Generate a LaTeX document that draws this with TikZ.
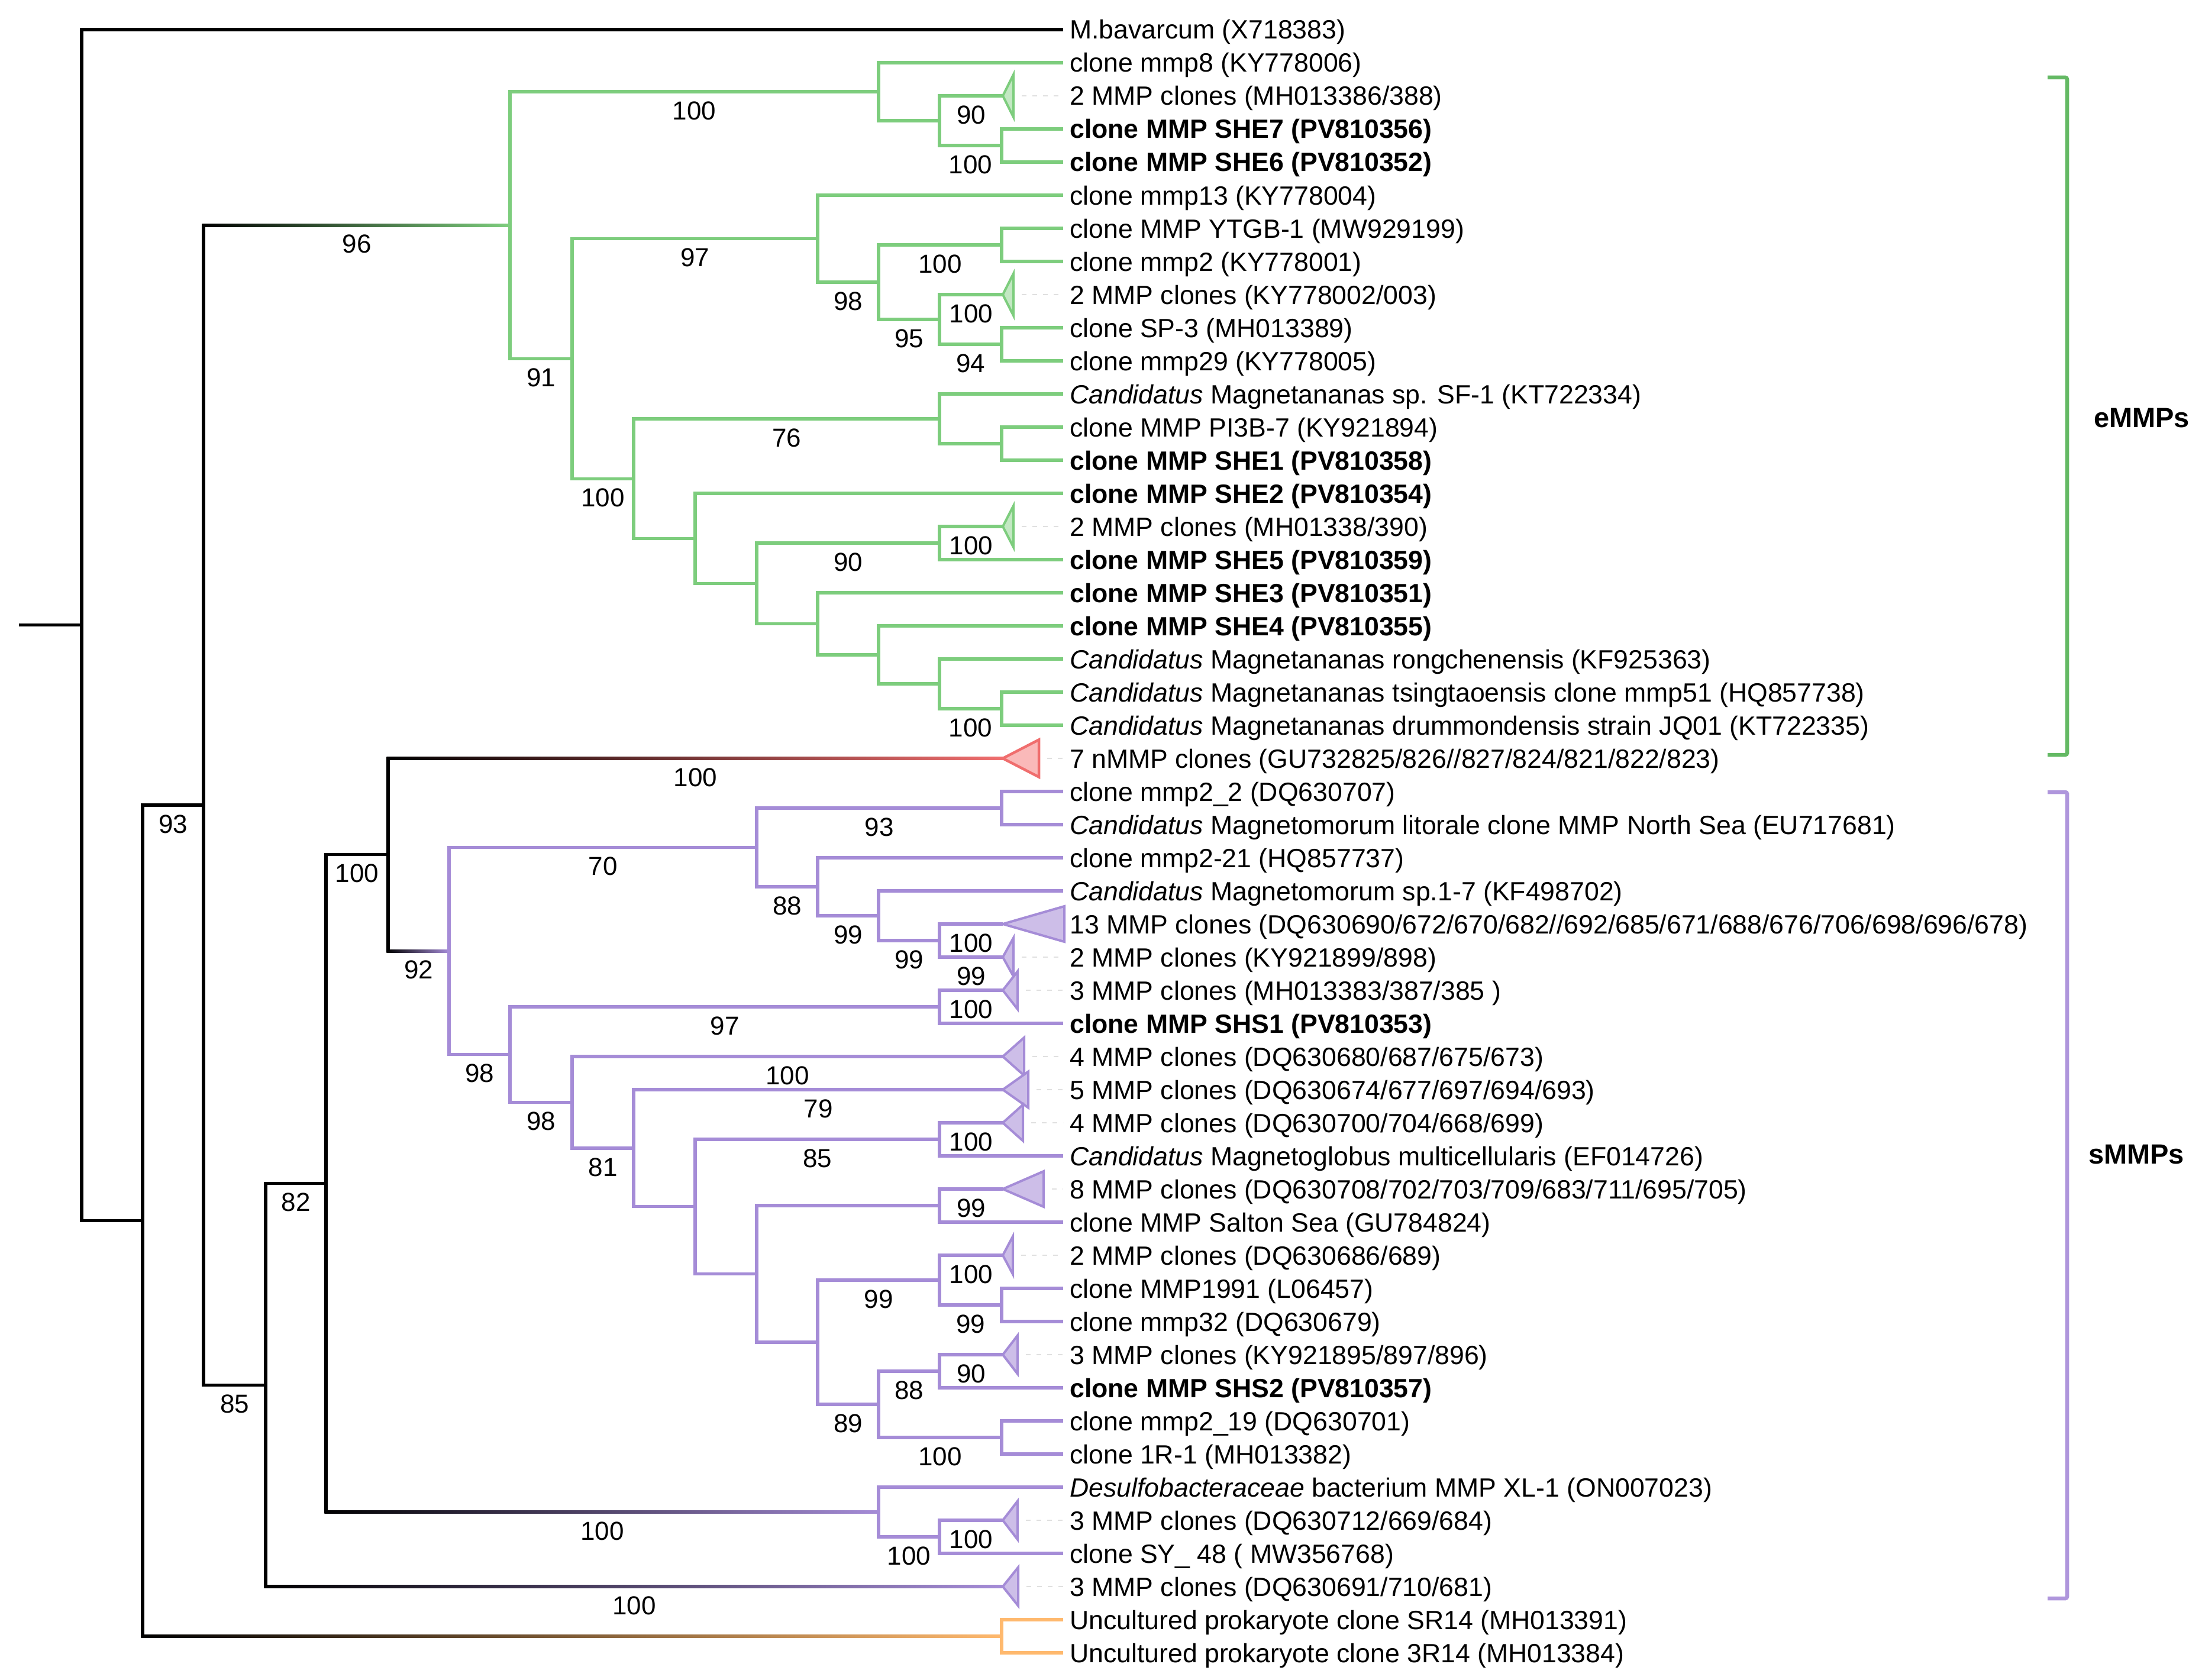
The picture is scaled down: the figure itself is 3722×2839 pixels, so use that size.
\documentclass[tikz,border=0pt]{standalone}
\usepackage{fontspec}
\setmainfont{Liberation Sans}
\usetikzlibrary{calc}
\definecolor{gline}{RGB}{125,205,125}
\definecolor{gfill}{RGB}{195,232,195}
\definecolor{gbrk}{RGB}{100,185,100}
\definecolor{pline}{RGB}{165,140,215}
\definecolor{pfill}{RGB}{205,190,232}
\definecolor{pbrk}{RGB}{175,150,220}
\definecolor{rline}{RGB}{240,110,110}
\definecolor{rfill}{RGB}{250,185,185}
\definecolor{oline}{RGB}{255,185,110}
\tikzset{
 bk/.style={draw=black,line width=5.2pt},
 gr/.style={draw=gline,line width=5.2pt},
 pu/.style={draw=pline,line width=5.2pt},
 og/.style={draw=oline,line width=5.2pt},
 gtri/.style={draw=gline,fill=gfill,line width=4pt},
 ptri/.style={draw=pline,fill=pfill,line width=4pt},
 rtri/.style={draw=rline,fill=rfill,line width=4.5pt},
 faint/.style={draw=black!12,line width=2pt,dash pattern=on 8pt off 10pt},
 lab/.style={anchor=base west,inner sep=0pt,font=\fontsize{44.6}{53}\selectfont},
 blab/.style={anchor=base west,inner sep=0pt,font=\fontsize{44.6}{53}\selectfont\bfseries},
 bs/.style={inner sep=0pt,font=\fontsize{44}{53}\selectfont},
 brk/.style={line width=6.5pt,rounded corners=3pt},
 clab/.style={inner sep=0pt,font=\fontsize{47}{53}\selectfont\bfseries},
}
\newcommand{\gradbr}[3]{\shade[left color=black,right color=#3] ($(#1 |- #2)+(-2.6,-2.6)$) rectangle ($(#2)+(0,2.6)$);}
\newcommand{\bsl}[4]{\node[bs] (#1) at ($(#2 |- #3)!0.5!(#3)+(0,32)$) {#4};}
\newcommand{\colltri}[4]{\filldraw[#2] (#1) -- ++(#3,{-#4/2}) -- ++(0,#4) -- cycle;}
\begin{document}
\begin{tikzpicture}[x=1pt,y=-1pt]
\useasboundingbox (0,0) rectangle (3722,2839);
% leaf ends
\foreach \i in {1,...,50} {\coordinate (l\i) at (1797,{50+56*(\i-1)});}
% triangle tips
\foreach \i in {3,9,16,23,28,29,30,32,33,34,36,38,41,46,48} {\coordinate (t\i) at (1695,{50+56*(\i-1)});}
% internal nodes
\coordinate (stub) at (32,1056.7);
\coordinate (root) at (138,1056.7);
\coordinate (k93) at (241,2063.5);
\coordinate (k96) at (344,1360.9);
\coordinate (k85) at (449,2341.2);
\coordinate (k82) at (551,2000.4);
\coordinate (k100) at (656,1444.8);
\coordinate (oA) at (1693,2766);
\coordinate (gT) at (862,380.6);
\coordinate (gC) at (1485,155);
\coordinate (gB) at (1588,204);
\coordinate (gA) at (1693,246);
\coordinate (gS) at (967,606.3);
\coordinate (gH) at (1382,403.5);
\coordinate (gG) at (1485,477);
\coordinate (gD) at (1693,414);
\coordinate (gF) at (1588,540);
\coordinate (gE) at (1693,582);
\coordinate (gR) at (1071,809.1);
\coordinate (gJ) at (1588,708);
\coordinate (gI) at (1693,750);
\coordinate (gQ) at (1175,910.1);
\coordinate (gP) at (1279,986.3);
\coordinate (gK) at (1588,918);
\coordinate (gO) at (1382,1054.5);
\coordinate (gN) at (1485,1107);
\coordinate (gM) at (1588,1156);
\coordinate (gL) at (1693,1198);
\coordinate (pT) at (759,1607.6);
\coordinate (pE) at (1279,1432.5);
\coordinate (pA) at (1693,1366);
\coordinate (pD) at (1382,1499);
\coordinate (pC) at (1485,1548);
\coordinate (pB) at (1588,1590);
\coordinate (pS) at (862,1782.7);
\coordinate (pF) at (1588,1702);
\coordinate (pR) at (967,1863.4);
\coordinate (pQ) at (1071,1940.9);
\coordinate (pP) at (1175,2039.8);
\coordinate (pG) at (1588,1926);
\coordinate (pO) at (1279,2153.5);
\coordinate (pH) at (1588,2038);
\coordinate (pN) at (1382,2269);
\coordinate (pJ) at (1588,2164);
\coordinate (pI) at (1693,2206);
\coordinate (pM) at (1485,2374);
\coordinate (pK) at (1588,2318);
\coordinate (pL) at (1693,2430);
\coordinate (pV) at (1485,2556);
\coordinate (pU) at (1588,2598);
% gradient branches
\gradbr{k93}{oA}{oline}
\gradbr{k96}{gT}{gline}
\gradbr{k85}{t48}{pline}
\gradbr{k82}{pV}{pline}
\gradbr{k100}{t23}{rline}
\gradbr{k100}{pT}{pline}
% black branches
\draw[bk] (stub) -- (root);
\draw[bk] (root) |- (l1);
\draw[bk] (root) |- (k93);
\draw[bk] (k93) |- (k96);
\draw[bk] (k93) -- (k93 |- oA);
\draw[bk] (k96) -- (k96 |- gT);
\draw[bk] (k96) |- (k85);
\draw[bk] (k85) |- (k82);
\draw[bk] (k85) -- (k85 |- t48);
\draw[bk] (k82) |- (k100);
\draw[bk] (k82) -- (k82 |- pV);
\draw[bk] (k100) -- (k100 |- t23);
\draw[bk] (k100) -- (k100 |- pT);
% orange
\draw[og] (oA) |- (l49);
\draw[og] (oA) |- (l50);
% green
\foreach \p/\c in {gT/gC,gT/gS,gC/l2,gC/gB,gB/t3,gB/gA,gA/l4,gA/l5,gS/gH,gS/gR,gH/l6,gH/gG,gG/gD,gG/gF,gD/l7,gD/l8,gF/t9,gF/gE,gE/l10,gE/l11,gR/gJ,gR/gQ,gJ/l12,gJ/gI,gI/l13,gI/l14,gQ/l15,gQ/gP,gP/gK,gP/gO,gK/t16,gK/l17,gO/l18,gO/gN,gN/l19,gN/gM,gM/l20,gM/gL,gL/l21,gL/l22}
  {\draw[gr] (\p) |- (\c);}
% purple
\foreach \p/\c in {pT/pE,pT/pS,pE/pA,pE/pD,pA/l24,pA/l25,pD/l26,pD/pC,pC/l27,pC/pB,pB/t28,pB/t29,pS/pF,pS/pR,pF/t30,pF/l31,pR/t32,pR/pQ,pQ/t33,pQ/pP,pP/pG,pP/pO,pG/t34,pG/l35,pO/pH,pO/pN,pH/t36,pH/l37,pN/pJ,pN/pM,pJ/t38,pJ/pI,pI/l39,pI/l40,pM/pK,pM/pL,pK/t41,pK/l42,pL/l43,pL/l44,pV/l45,pV/pU,pU/t46,pU/l47}
  {\draw[pu] (\p) |- (\c);}
% faint dashed leaders
\foreach \i/\w in {3/18,9/18,16/18,23/61,29/18,30/25,32/36,33/43,34/34,36/69,38/17,41/25,46/25,48/26}
  {\draw[faint] ($(t\i)+(\w+14,0)$) -- (l\i);}
% collapsed triangles
\colltri{t3}{gtri}{18}{72}
\colltri{t9}{gtri}{18}{71}
\colltri{t16}{gtri}{18}{70}
\colltri{t23}{rtri}{61}{63}
\colltri{t28}{ptri}{104}{60}
\colltri{t29}{ptri}{18}{65}
\colltri{t30}{ptri}{25}{64}
\colltri{t32}{ptri}{36}{64}
\colltri{t33}{ptri}{43}{61}
\colltri{t34}{ptri}{34}{61}
\colltri{t36}{ptri}{69}{60}
\colltri{t38}{ptri}{17}{64}
\colltri{t41}{ptri}{25}{65}
\colltri{t46}{ptri}{25}{65}
\colltri{t48}{ptri}{26}{65}
% leaf labels
\node[lab] (n1) at ($(l1)+(11,16)$) {M.bavarcum (X718383)};
\node[lab] (n2) at ($(l2)+(11,16)$) {clone mmp8 (KY778006)};
\node[lab] (n3) at ($(l3)+(11,16)$) {2 MMP clones (MH013386/388)};
\node[blab] (n4) at ($(l4)+(11,16)$) {clone MMP SHE7 (PV810356)};
\node[blab] (n5) at ($(l5)+(11,16)$) {clone MMP SHE6 (PV810352)};
\node[lab] (n6) at ($(l6)+(11,16)$) {clone mmp13 (KY778004)};
\node[lab] (n7) at ($(l7)+(11,16)$) {clone MMP YTGB-1 (MW929199)};
\node[lab] (n8) at ($(l8)+(11,16)$) {clone mmp2 (KY778001)};
\node[lab] (n9) at ($(l9)+(11,16)$) {2 MMP clones (KY778002/003)};
\node[lab] (n10) at ($(l10)+(11,16)$) {clone SP-3 (MH013389)};
\node[lab] (n11) at ($(l11)+(11,16)$) {clone mmp29 (KY778005)};
\node[lab] (n12) at ($(l12)+(11,16)$) {\textit{Candidatus} Magnetananas sp. SF-1 (KT722334)};
\node[lab] (n13) at ($(l13)+(11,16)$) {clone MMP PI3B-7 (KY921894)};
\node[blab] (n14) at ($(l14)+(11,16)$) {clone MMP SHE1 (PV810358)};
\node[blab] (n15) at ($(l15)+(11,16)$) {clone MMP SHE2 (PV810354)};
\node[lab] (n16) at ($(l16)+(11,16)$) {2 MMP clones (MH01338/390)};
\node[blab] (n17) at ($(l17)+(11,16)$) {clone MMP SHE5 (PV810359)};
\node[blab] (n18) at ($(l18)+(11,16)$) {clone MMP SHE3 (PV810351)};
\node[blab] (n19) at ($(l19)+(11,16)$) {clone MMP SHE4 (PV810355)};
\node[lab] (n20) at ($(l20)+(11,16)$) {\textit{Candidatus} Magnetananas rongchenensis (KF925363)};
\node[lab] (n21) at ($(l21)+(11,16)$) {\textit{Candidatus} Magnetananas tsingtaoensis clone mmp51 (HQ857738)};
\node[lab] (n22) at ($(l22)+(11,16)$) {\textit{Candidatus} Magnetananas drummondensis strain JQ01 (KT722335)};
\node[lab] (n23) at ($(l23)+(11,16)$) {7 nMMP clones (GU732825/826//827/824/821/822/823)};
\node[lab] (n24) at ($(l24)+(11,16)$) {clone mmp2\_2 (DQ630707)};
\node[lab] (n25) at ($(l25)+(11,16)$) {\textit{Candidatus} Magnetomorum litorale clone MMP North Sea (EU717681)};
\node[lab] (n26) at ($(l26)+(11,16)$) {clone mmp2-21 (HQ857737)};
\node[lab] (n27) at ($(l27)+(11,16)$) {\textit{Candidatus} Magnetomorum sp.1-7 (KF498702)};
\node[lab] (n28) at ($(l28)+(11,16)$) {13 MMP clones (DQ630690/672/670/682//692/685/671/688/676/706/698/696/678)};
\node[lab] (n29) at ($(l29)+(11,16)$) {2 MMP clones (KY921899/898)};
\node[lab] (n30) at ($(l30)+(11,16)$) {3 MMP clones (MH013383/387/385 )};
\node[blab] (n31) at ($(l31)+(11,16)$) {clone MMP SHS1 (PV810353)};
\node[lab] (n32) at ($(l32)+(11,16)$) {4 MMP clones (DQ630680/687/675/673)};
\node[lab] (n33) at ($(l33)+(11,16)$) {5 MMP clones (DQ630674/677/697/694/693)};
\node[lab] (n34) at ($(l34)+(11,16)$) {4 MMP clones (DQ630700/704/668/699)};
\node[lab] (n35) at ($(l35)+(11,16)$) {\textit{Candidatus} Magnetoglobus multicellularis (EF014726)};
\node[lab] (n36) at ($(l36)+(11,16)$) {8 MMP clones (DQ630708/702/703/709/683/711/695/705)};
\node[lab] (n37) at ($(l37)+(11,16)$) {clone MMP Salton Sea (GU784824)};
\node[lab] (n38) at ($(l38)+(11,16)$) {2 MMP clones (DQ630686/689)};
\node[lab] (n39) at ($(l39)+(11,16)$) {clone MMP1991 (L06457)};
\node[lab] (n40) at ($(l40)+(11,16)$) {clone mmp32 (DQ630679)};
\node[lab] (n41) at ($(l41)+(11,16)$) {3 MMP clones (KY921895/897/896)};
\node[blab] (n42) at ($(l42)+(11,16)$) {clone MMP SHS2 (PV810357)};
\node[lab] (n43) at ($(l43)+(11,16)$) {clone mmp2\_19 (DQ630701)};
\node[lab] (n44) at ($(l44)+(11,16)$) {clone 1R-1 (MH013382)};
\node[lab] (n45) at ($(l45)+(11,16)$) {\textit{Desulfobacteraceae} bacterium MMP XL-1 (ON007023)};
\node[lab] (n46) at ($(l46)+(11,16)$) {3 MMP clones (DQ630712/669/684)};
\node[lab] (n47) at ($(l47)+(11,16)$) {clone SY\_ 48 ( MW356768)};
\node[lab] (n48) at ($(l48)+(11,16)$) {3 MMP clones (DQ630691/710/681)};
\node[lab] (n49) at ($(l49)+(11,16)$) {Uncultured prokaryote clone SR14 (MH013391)};
\node[lab] (n50) at ($(l50)+(11,16)$) {Uncultured prokaryote clone 3R14 (MH013384)};
% bootstrap values
\bsl{b1}{gT}{gC}{100}
\bsl{b2}{gB}{t3}{90}
\bsl{b3}{gB}{gA}{100}
\bsl{b4}{k96}{gT}{96}
\bsl{b5}{gS}{gH}{97}
\bsl{b6}{gG}{gD}{100}
\bsl{b7}{gH}{gG}{98}
\bsl{b8}{gF}{t9}{100}
\bsl{b9}{gG}{gF}{95}
\bsl{b10}{gF}{gE}{94}
\bsl{b11}{gT}{gS}{91}
\bsl{b12}{gR}{gJ}{76}
\bsl{b13}{gS}{gR}{100}
\bsl{b14}{gK}{t16}{100}
\bsl{b15}{gP}{gK}{90}
\bsl{b16}{gM}{gL}{100}
\bsl{b17}{k100}{t23}{100}
\bsl{b18}{pE}{pA}{93}
\bsl{b19}{k82}{k100}{100}
\bsl{b20}{pT}{pE}{70}
\bsl{b21}{pE}{pD}{88}
\bsl{b22}{pD}{pC}{99}
\bsl{b23}{pB}{t28}{100}
\bsl{b24}{pC}{pB}{99}
\bsl{b25}{k100}{pT}{92}
\bsl{b26}{pB}{t29}{99}
\bsl{b27}{pF}{t30}{100}
\bsl{b28}{pS}{pF}{97}
\bsl{b29}{pT}{pS}{98}
\bsl{b30}{pR}{t32}{100}
\bsl{b31}{pS}{pR}{98}
\bsl{b32}{pQ}{t33}{79}
\bsl{b33}{pR}{pQ}{81}
\bsl{b34}{pG}{t34}{100}
\bsl{b35}{pP}{pG}{85}
\bsl{b36}{k85}{k82}{82}
\bsl{b37}{pH}{t36}{99}
\bsl{b38}{pJ}{t38}{100}
\bsl{b39}{pN}{pJ}{99}
\bsl{b40}{pJ}{pI}{99}
\bsl{b41}{pK}{t41}{90}
\bsl{b42}{pM}{pK}{88}
\bsl{b43}{k96}{k85}{85}
\bsl{b44}{pN}{pM}{89}
\bsl{b45}{pM}{pL}{100}
\bsl{b46}{k82}{pV}{100}
\bsl{b47}{pV}{pU}{100}
\bsl{b48}{pU}{t46}{100}
\bsl{b49}{k85}{t48}{100}
\bsl{b50}{k93}{k96}{93}
% group brackets
\coordinate (e1) at (3461,131);
\coordinate (e2) at (3494,131);
\coordinate (e3) at (3494,1276);
\coordinate (e4) at (3461,1276);
\draw[brk,draw=gbrk] (e1) -- (e2) -- (e3) -- (e4);
\coordinate (s1) at (3461,1339);
\coordinate (s2) at (3494,1339);
\coordinate (s3) at (3494,2702);
\coordinate (s4) at (3461,2702);
\draw[brk,draw=pbrk] (s1) -- (s2) -- (s3) -- (s4);
\node[clab] (eM) at (3620,707) {eMMPs};
\node[clab] (sM) at (3611,1952) {sMMPs};
\end{tikzpicture}
\end{document}
